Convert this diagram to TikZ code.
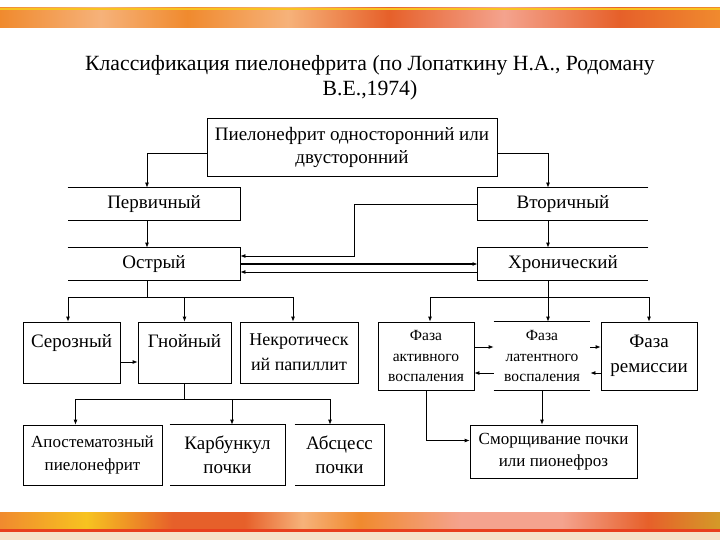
\documentclass[tikz,border=0pt]{standalone}
\usepackage{fontspec}
\setmainfont{Liberation Serif}
\usetikzlibrary{arrows.meta, positioning}
\definecolor{Bar_Yellow}{HTML}{F7C320}
\definecolor{Bar_Orange}{HTML}{F08A2E}
\definecolor{Bar_Light}{HTML}{F6B27A}
\definecolor{Bar_Deep}{HTML}{E6602A}
\definecolor{Bar_Pink}{HTML}{F4A38E}
\definecolor{Bar_Gold}{HTML}{D49A28}
\definecolor{Bar_Red}{HTML}{E8401E}
\definecolor{Bar_Beige}{HTML}{F6E2C8}
\pgfdeclarehorizontalshading{topbar}{100bp}{color(0bp)=(Bar_Orange); color(25bp)=(Bar_Orange); color(32bp)=(Bar_Light); color(38bp)=(Bar_Orange); color(45bp)=(Bar_Light); color(52bp)=(Bar_Deep); color(60bp)=(Bar_Pink); color(68bp)=(Bar_Deep); color(75bp)=(Bar_Orange); color(100bp)=(Bar_Orange)}
\pgfdeclarehorizontalshading{botbar}{100bp}{color(0bp)=(Bar_Orange); color(25bp)=(Bar_Orange); color(31bp)=(Bar_Yellow); color(37bp)=(Bar_Deep); color(42bp)=(Bar_Deep); color(46bp)=(Bar_Light); color(50bp)=(Bar_Orange); color(57bp)=(Bar_Pink); color(64bp)=(Bar_Pink); color(70bp)=(Bar_Deep); color(75bp)=(Bar_Gold); color(100bp)=(Bar_Gold)}

\begin{document}
\begin{tikzpicture}[x=1pt, y=-1pt,
    box/.style={draw, line width=0.8pt, inner sep=0pt, align=center, font=\fontsize{19}{23}\selectfont},
    open/.style={box, draw=none},
    arr/.style={line width=0.8pt, -{Latex[length=5pt,width=4pt]}},
    link/.style={line width=0.8pt}]
    \useasboundingbox[fill=white] (0,0) rectangle (720,540);

    % bars
    \shade[shading=topbar] (0,8) rectangle (720,28);
    \fill[Bar_Yellow] (0,8) rectangle (720,10);
    \shade[shading=botbar] (0,512) rectangle (720,530);
    \fill[Bar_Red] (0,529) rectangle (720,532);
    \fill[Bar_Beige] (0,532) rectangle (720,540);

    % title
    \node[align=center, font=\fontsize{21.7}{25}\selectfont] (title) at (370,78)
        {Классификация пиелонефрита (по Лопаткину Н.А., Родоману\\В.Е.,1974)};

    % Row 1
    \node[box, minimum width=290, minimum height=58] (root) at (352,147) {Пиелонефрит односторонний или\\двусторонний};
    \node[open, minimum width=172, minimum height=32] (perv) at (154,204) {Первичный};
    \node[open, minimum width=170, minimum height=32] (vtor) at (563,204) {Вторичный};
    \draw[link] (perv.north west) -- (perv.north east) -- (perv.south east) -- (perv.south west);
    \draw[link] (vtor.north east) -- (vtor.north west) -- (vtor.south west) -- (vtor.south east);

    % Row 2
    \node[open, minimum width=172, minimum height=32] (ostr) at (154,264) {Острый};
    \node[open, minimum width=170, minimum height=32] (hron) at (563,264) {Хронический};
    \draw[link] (ostr.north west) -- (ostr.north east) -- (ostr.south east) -- (ostr.south west);
    \draw[link] (hron.north east) -- (hron.north west) -- (hron.south west) -- (hron.south east);

    % Row 3
    \node[box, minimum width=97, minimum height=61] (seroz) at (71.5,352.5) {Серозный\\~};
    \node[box, minimum width=93, minimum height=61] (gnoin) at (184.5,352.5) {Гнойный\\~};
    \node[box, minimum width=118, minimum height=61, font=\fontsize{18}{25}\selectfont] (nekr) at (299,352.5) {Некротическ\\ий папиллит};
    \node[box, minimum width=96, minimum height=68, font=\fontsize{15.5}{20.5}\selectfont] (akt) at (426,356) {Фаза\\активного\\воспаления};
    \node[open, minimum width=96, minimum height=68, font=\fontsize{15.5}{20.5}\selectfont] (lat) at (542,356) {Фаза\\латентного\\воспаления};
    \node[box, minimum width=96, minimum height=68, font=\fontsize{19}{25}\selectfont] (rem) at (649,356) {Фаза\\ремиссии};
    \draw[link] (lat.north west) -- (lat.north east);
    \draw[link] (lat.south west) -- (lat.south east);

    % Row 4
    \node[box, minimum width=139, minimum height=60, font=\fontsize{17}{23}\selectfont] (apost) at (92.5,455) {Апостематозный\\пиелонефрит};
    \node[open, minimum width=115, minimum height=60, font=\fontsize{19}{24}\selectfont] (karb) at (227.5,455) {Карбункул\\почки};
    \node[open, minimum width=89, minimum height=60, font=\fontsize{19}{24}\selectfont] (absc) at (339.5,455) {Абсцесс\\почки};
    \draw[link] (karb.north west) -- (karb.north east) -- (karb.south east) -- (karb.south west);
    \draw[link] (absc.north west) -- (absc.north east) -- (absc.south east) -- (absc.south west);
    \node[box, minimum width=167, minimum height=53, font=\fontsize{17}{22}\selectfont] (smor) at (553.5,451.5) {Сморщивание почки\\или пионефроз};

    % connectors
    \draw[arr] ([yshift=-6]root.west) -| ([xshift=-7]perv.north);
    \draw[arr] ([yshift=-6]root.east) -| ([xshift=-15]vtor.north);
    \draw[arr] ([xshift=-7]perv.south) -- ([xshift=-7]ostr.north);
    \draw[arr] ([xshift=-15]vtor.south) -- ([xshift=-15]hron.north);
    \draw[arr] (vtor.west) -- ++(-123,0) |- ([yshift=8]ostr.east);
    \draw[arr, line width=1.1pt] (ostr.east) -- (hron.west);
    \draw[arr] ([yshift=-8]hron.west) -- ([yshift=-8]ostr.east);

    \draw[link] ([xshift=-7]ostr.south) -- ++(0,17) coordinate (ofork);
    \draw[arr] (ofork) -| ([xshift=-3.5]seroz.north);
    \draw[arr] (ofork) -| (gnoin.north);
    \draw[arr] (ofork) -| ([xshift=-6]nekr.north);
    \draw[arr] ([yshift=-9.5]seroz.east) -- ([yshift=-9.5]gnoin.west);

    \draw[link] ([xshift=-15]hron.south) -- ++(0,17) coordinate (hfork);
    \draw[arr] (hfork) -| ([xshift=4]akt.north);
    \draw[arr] (hfork) -- (hfork |- lat.north);
    \draw[arr] (hfork) -| (rem.north);
    \draw[arr] ([yshift=9]akt.east) -- ([yshift=9]lat.west);
    \draw[arr] ([yshift=-17]lat.west) -- ([yshift=-17]akt.east);
    \draw[arr] ([yshift=9]lat.east) -- ([yshift=9]rem.west);
    \draw[arr] ([yshift=-17]rem.west) -- ([yshift=-17]lat.east);
    \draw[arr] (akt.south) |- ([yshift=11]smor.west);
    \draw[arr] (lat.south) -- (lat.south |- smor.north);

    \draw[link] (gnoin.south) -- ++(0,16) coordinate (gfork);
    \draw[arr] (gfork) -| ([xshift=-17]apost.north);
    \draw[arr] (gfork) -| ([xshift=4.5]karb.north);
    \draw[arr] (gfork) -| ([xshift=-9.5]absc.north);
\end{tikzpicture}
\end{document}
